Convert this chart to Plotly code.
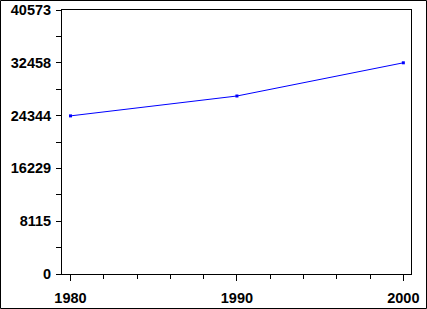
import plotly.graph_objects as go

years = [1980, 1990, 2000]
values = [24300, 27356, 32458]
ytick_vals = [0, 8115, 16229, 24344, 32458, 40573]
ytick_text = ["0", "8115", "16229", "24344", "32458", "40573"]
xtick_vals = [1980, 1990, 2000]
xtick_text = ["1980", "1990", "2000"]

W, H = 427, 309
L, R, T, B = 62, 16, 10, 35
pw, ph = W - L - R, H - T - B

fig = go.Figure()
fig.add_trace(go.Scatter(
    x=years, y=values, mode="lines+markers",
    line=dict(color="#0000ff", width=1),
    marker=dict(symbol="square", size=3, color="#0000ff"),
    showlegend=False, hoverinfo="skip"))

font = dict(family="Liberation Sans, Arial, sans-serif", size=14.5, color="black",
            weight="bold")

fig.update_layout(
    width=W, height=H,
    margin=dict(l=L, r=R, t=T, b=B, pad=0, autoexpand=False),
    paper_bgcolor="white", plot_bgcolor="white",
    font=font,
    xaxis=dict(
        range=[1979.49, 2000.46], tickvals=xtick_vals, ticktext=xtick_text,
        automargin=False,
        showgrid=False, zeroline=False, showline=True, mirror=True,
        linecolor="black", linewidth=1,
        ticks="outside", ticklen=6, tickwidth=1, tickcolor="black",
        ticklabelstandoff=5,
        minor=dict(dtick=2, tick0=1980, ticks="outside", ticklen=4,
                   tickwidth=1, tickcolor="black", showgrid=False),
        tickfont=font,
    ),
    yaxis=dict(
        range=[0, 40573], tickvals=ytick_vals, ticktext=ytick_text,
        automargin=False,
        showgrid=False, zeroline=False, showline=True, mirror=True,
        linecolor="black", linewidth=1,
        ticks="outside", ticklen=5, tickwidth=1, tickcolor="black",
        ticklabelstandoff=2,
        minor=dict(tickvals=[(ytick_vals[i] + ytick_vals[i + 1]) / 2 for i in range(5)],
                   ticks="outside", ticklen=5, tickwidth=1, tickcolor="black",
                   showgrid=False),
        tickfont=font,
    ),
)

# outer border of the image
fig.add_shape(type="rect", xref="paper", yref="paper",
              x0=(0.5 - L) / pw, x1=(W - 0.5 - L) / pw,
              y0=(H - B - (H - 0.5)) / ph, y1=(H - B - 0.5) / ph,
              line=dict(color="black", width=1), layer="below")

fig.write_html("out.html")
